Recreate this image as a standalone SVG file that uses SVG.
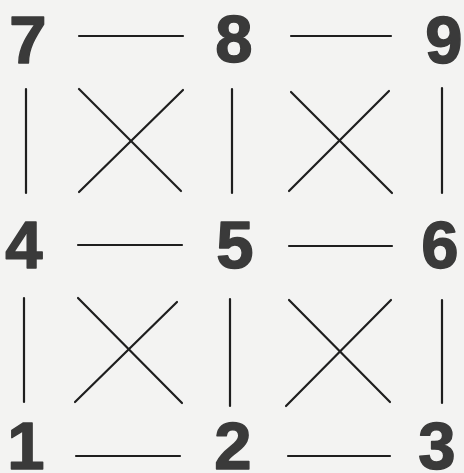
<svg xmlns="http://www.w3.org/2000/svg" width="464" height="473" viewBox="0 0 464 473">
<style>
.bg{fill:#f3f3f2}
.n{font-family:"Liberation Sans",Arial,sans-serif;font-weight:bold;font-size:67px;fill:#3a3a3a;stroke:#3a3a3a;stroke-width:1.5;stroke-linejoin:round;text-anchor:middle}
.c line{stroke:#1e1e1e;stroke-width:2.2;stroke-linecap:round}
</style>
<rect class="bg" width="464" height="473"/>
<g id="node-7"><text class="n" x="28" y="63">7</text></g>
<g id="node-8"><text class="n" x="234" y="62">8</text></g>
<g id="node-9"><text class="n" x="444" y="63">9</text></g>
<g id="node-4"><text class="n" x="24" y="268">4</text></g>
<g id="node-5"><text class="n" x="235" y="268">5</text></g>
<g id="node-6"><text class="n" x="440" y="268">6</text></g>
<g id="node-1"><text class="n" x="26" y="469">1</text></g>
<g id="node-2"><text class="n" x="233" y="469">2</text></g>
<g id="node-3"><text class="n" x="437" y="469">3</text></g>
<g id="connectors" class="c">
<line x1="79" y1="36" x2="183" y2="36"/>
<line x1="291" y1="36" x2="391" y2="36"/>
<line x1="78" y1="245" x2="182" y2="245"/>
<line x1="289" y1="246" x2="392" y2="246"/>
<line x1="76" y1="456" x2="180" y2="456"/>
<line x1="288" y1="456" x2="390" y2="456"/>
<line x1="26" y1="89" x2="26" y2="193"/>
<line x1="232" y1="89" x2="232" y2="193"/>
<line x1="442" y1="88" x2="442" y2="193"/>
<line x1="24" y1="298" x2="24" y2="402"/>
<line x1="230" y1="299" x2="230" y2="406"/>
<line x1="442" y1="300" x2="442" y2="403"/>
<line x1="79" y1="89" x2="181" y2="191"/>
<line x1="183" y1="90" x2="79" y2="192"/>
<line x1="291" y1="92" x2="392" y2="193"/>
<line x1="389" y1="91" x2="289" y2="191"/>
<line x1="78" y1="298" x2="182" y2="403"/>
<line x1="177" y1="302" x2="75" y2="402"/>
<line x1="289" y1="300" x2="390" y2="402"/>
<line x1="391" y1="300" x2="286" y2="406"/>
</g>
</svg>
